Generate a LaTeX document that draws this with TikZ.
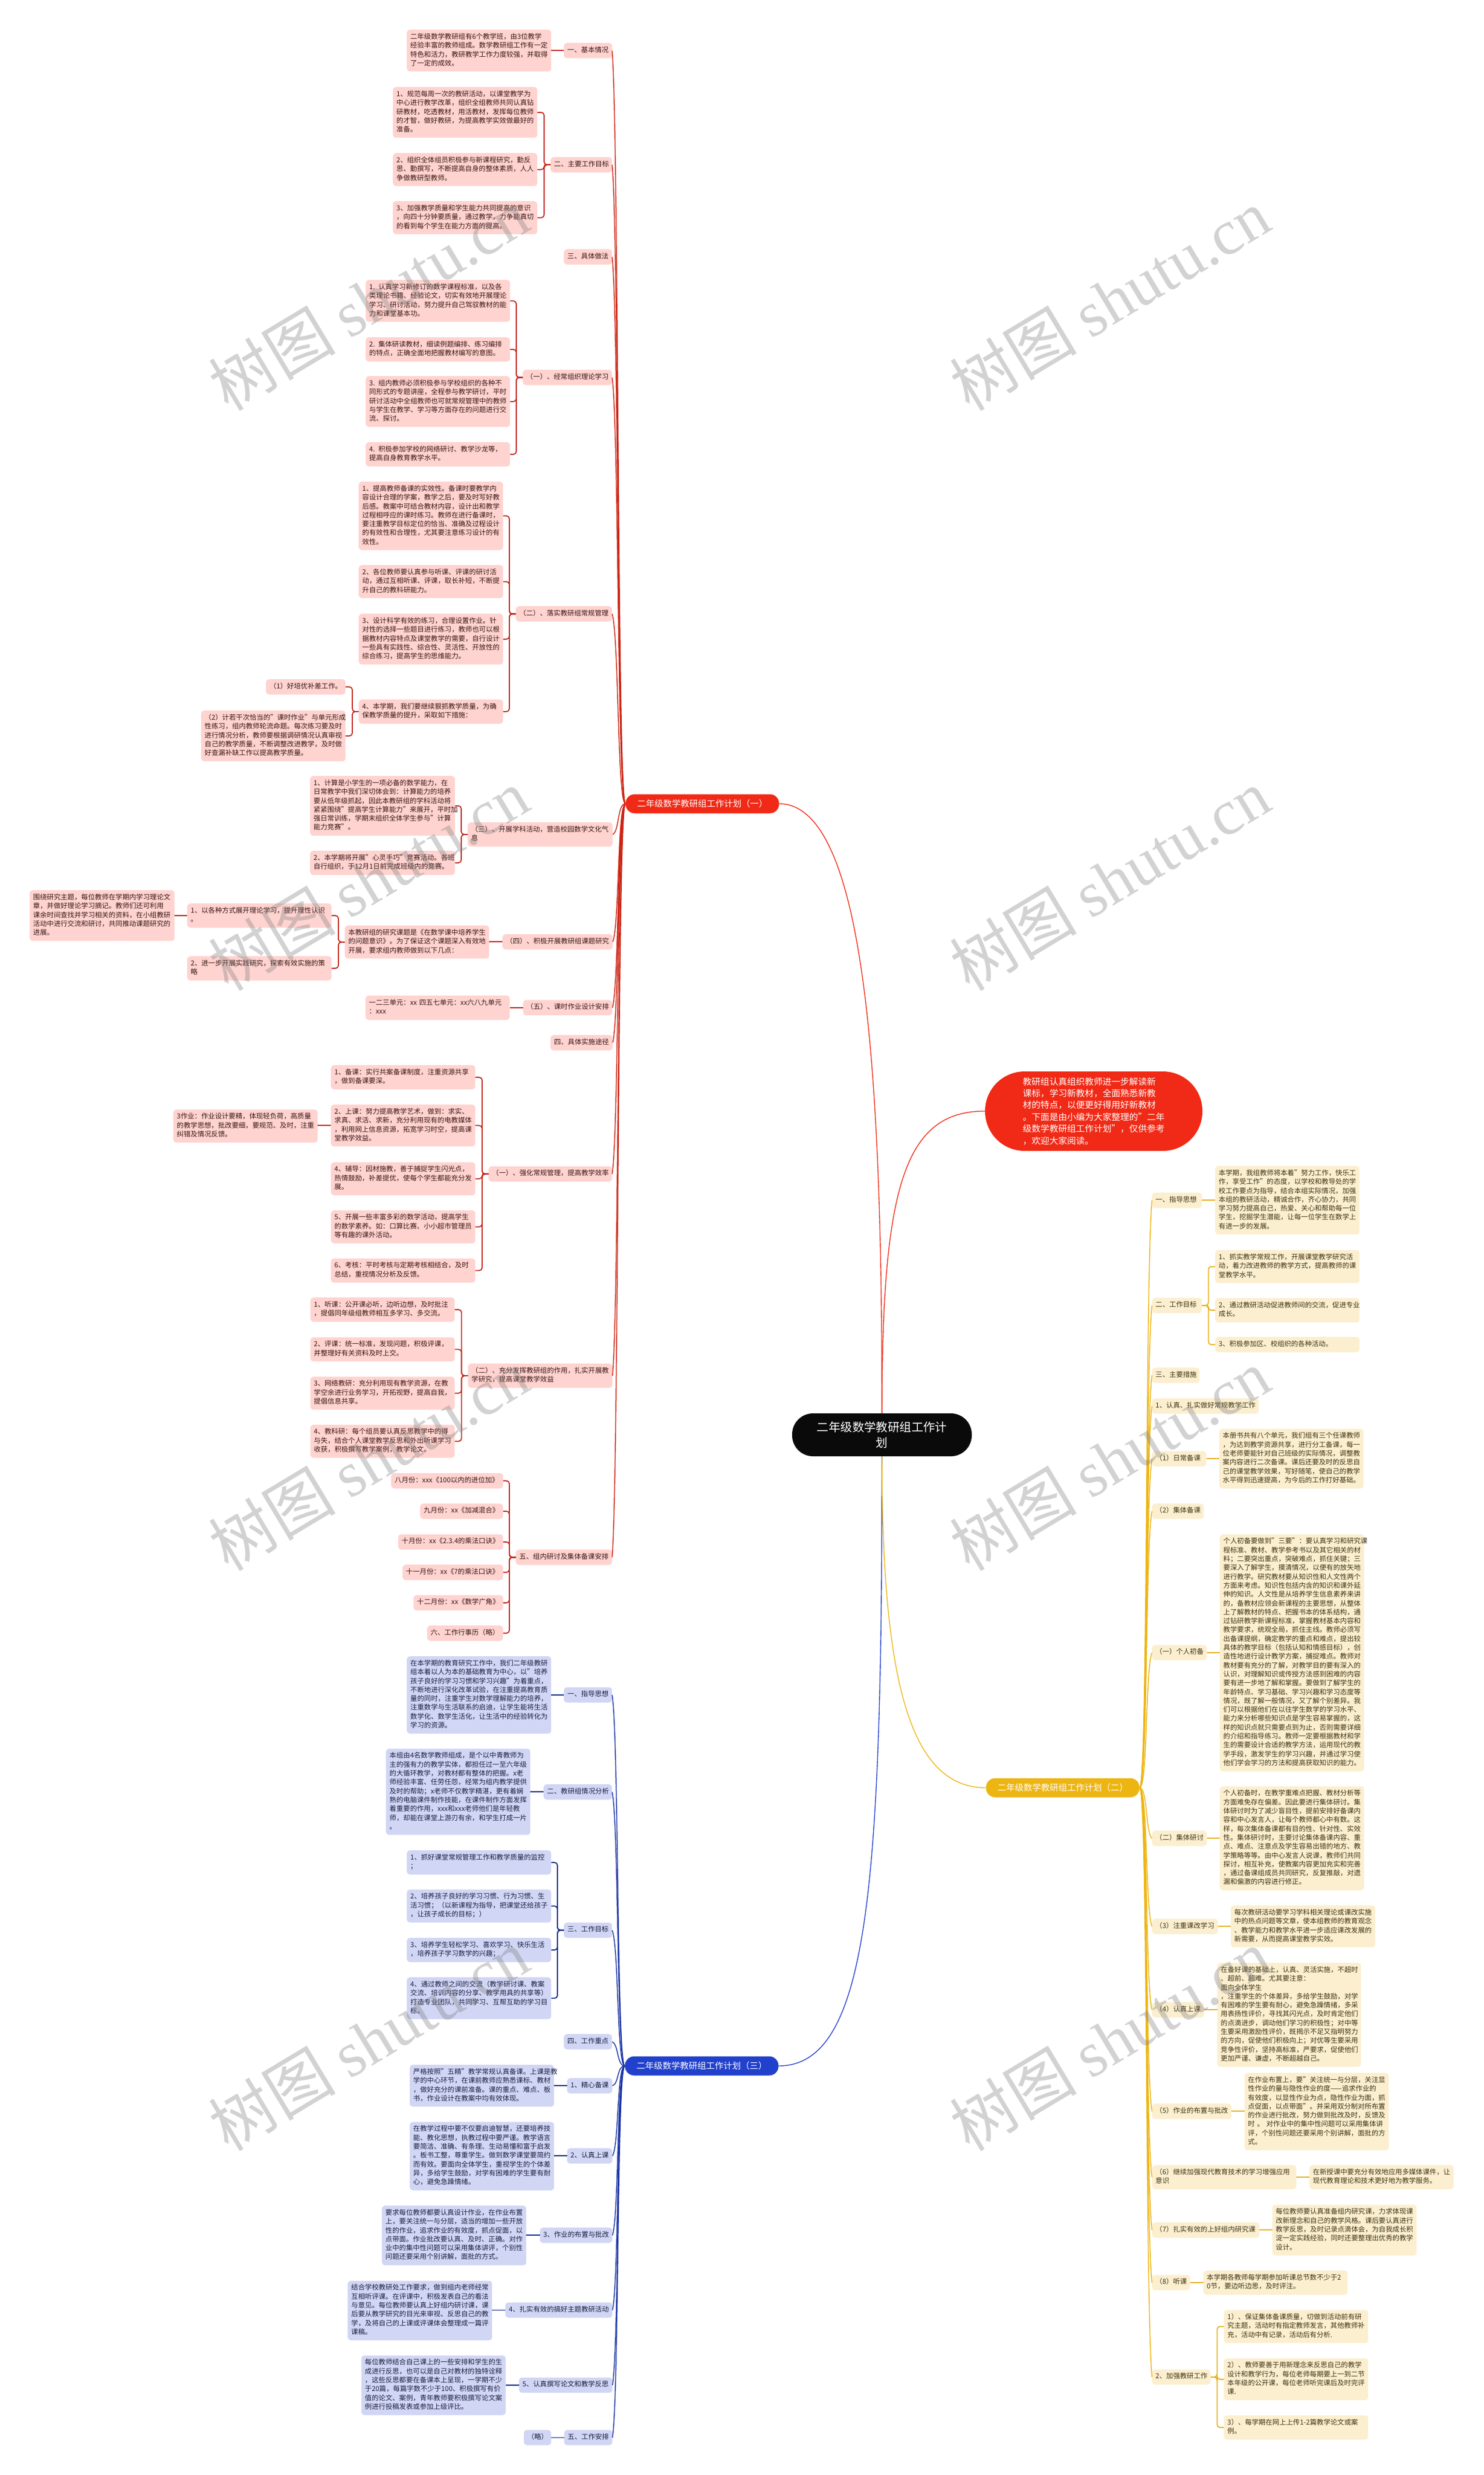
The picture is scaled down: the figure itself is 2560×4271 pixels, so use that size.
\documentclass[tikz,border=0pt]{standalone}
\usepackage{fontspec}
\setmainfont{Noto Sans CJK SC}
\newfontfamily\markfont{Liberation Serif}
\usetikzlibrary{calc}
\definecolor{redfill}{HTML}{FFD3CF}
\definecolor{redtext}{HTML}{3B1512}
\definecolor{redlink}{HTML}{C2261A}
\definecolor{redmain}{HTML}{F02A16}
\definecolor{bluefill}{HTML}{D1D6F5}
\definecolor{bluetext}{HTML}{1A1D40}
\definecolor{bluelink}{HTML}{0E2A8C}
\definecolor{bluemain}{HTML}{2140CC}
\definecolor{yelfill}{HTML}{FBEFD0}
\definecolor{yeltext}{HTML}{3F3110}
\definecolor{yellink}{HTML}{E8B01E}
\definecolor{yelmain}{HTML}{EDB512}
\tikzset{
  leaf/.style={anchor=north west, rounded corners=5pt, inner xsep=6pt, inner ysep=5.5pt, align=left,
    font=\fontsize{11.85}{15.3}\selectfont, execute at begin node=\strut, execute at end node=\strut},
  tw/.style={text width=#1pt-12pt},
  redbox/.style={leaf, fill=redfill, text=redtext},
  bluebox/.style={leaf, fill=bluefill, text=bluetext},
  yelbox/.style={leaf, fill=yelfill, text=yeltext},
  pill/.style={rounded corners=16pt, minimum width=265pt, minimum height=33pt, text=white,
    font=\fontsize{15}{18}\selectfont},
  redline/.style={draw=redlink, line width=1.8pt},
  blueline/.style={draw=bluelink, line width=1.8pt},
  yelline/.style={draw=yellink, line width=1.8pt}
}
\begin{document}
\begin{tikzpicture}[x=1pt, y=-1pt]
  \useasboundingbox[fill=white] (0,0) rectangle (2560,4271);

  \node[fill=black!96, rounded corners=36pt, minimum width=310pt, minimum height=74pt, text=white, align=center,
    font=\fontsize{20.4}{27}\selectfont] (root) at (1522,2476) {二年级数学教研组工作计\\划};
  \node[fill=redmain, rounded corners=68pt, minimum width=375pt, minimum height=137pt, text=white, align=left,
    font=\fontsize{15.3}{20.4}\selectfont] (intro) at (1887.5,1917.5) {教研组认真组织教师进一步解读新\\课标，学习新教材，全面熟悉新教\\材的特点，以便更好得用好新教材\\。下面是由小编为大家整理的"二年\\级数学教研组工作计划"，仅供参考\\，欢迎大家阅读。};
  \node[pill, fill=redmain] (red) at (1212,1387) {二年级数学教研组工作计划（一）};
  \node[pill, fill=bluemain] (blue) at (1211,3565) {二年级数学教研组工作计划（三）};
  \node[pill, fill=yelmain] (yel) at (1834,3085) {二年级数学教研组工作计划（二）};

  {\tikzstyle{every node}=[redbox]
    \node[tw=83] (r1) at (973,74) {一、基本情况};
    \node[tw=249] (r1a) at (702,51) {二年级数学教研组有6个教学班，由3位教学\\经验丰富的教师组成。数学教研组工作有一定\\特色和活力，教研教学工作力度较强，并取得\\了一定的成效。};
    \node[tw=106] (r2) at (950,271) {二、主要工作目标};
    \node[tw=249] (r2a) at (678,150) {1、规范每周一次的教研活动，以课堂教学为\\中心进行教学改革，组织全组教师共同认真钻\\研教材，吃透教材，用活教材，发挥每位教师\\的才智，做好教研，为提高教学实效做最好的\\准备。};
    \node[tw=249] (r2b) at (678,264) {2、组织全体组员积极参与新课程研究，勤反\\思、勤撰写，不断提高自身的整体素质，人人\\争做教研型教师。};
    \node[tw=249] (r2c) at (678,347) {3、加强教学质量和学生能力共同提高的意识\\，向四十分钟要质量，通过教学，力争能真切\\的看到每个学生在能力方面的提高。};
    \node[tw=83] (r3) at (973,430) {三、具体做法};
    \node[tw=154] (r4) at (902,638) {（一）、经常组织理论学习};
    \node[tw=249] (r4a) at (631,483) {1. 认真学习新修订的数学课程标准，以及各\\类理论书籍、经验论文，切实有效地开展理论\\学习、研讨活动，努力提升自己驾驭教材的能\\力和课堂基本功。};
    \node[tw=249] (r4b) at (631,582) {2. 集体研读教材，细读例题编排、练习编排\\的特点，正确全面地把握教材编写的意图。};
    \node[tw=249] (r4c) at (631,649) {3. 组内教师必须积极参与学校组织的各种不\\同形式的专题讲座，全程参与教学研讨，平时\\研讨活动中全组教师也可就常规管理中的教师\\与学生在教学、学习等方面存在的问题进行交\\流、探讨。};
    \node[tw=249] (r4d) at (631,763) {4. 积极参加学校的网络研讨、教学沙龙等，\\提高自身教育教学水平。};
    \node[tw=166] (r5) at (890,1046) {（二）、落实教研组常规管理};
    \node[tw=249] (r5a) at (619,831) {1、提高教师备课的实效性。备课时要教学内\\容设计合理的学案，教学之后，要及时写好教\\后感。教案中可结合教材内容，设计出和教学\\过程相呼应的课时练习。教师在进行备课时，\\要注重教学目标定位的恰当、准确及过程设计\\的有效性和合理性，尤其要注意练习设计的有\\效性。};
    \node[tw=249] (r5b) at (619,975) {2、各位教师要认真参与听课、评课的研讨活\\动，通过互相听课、评课，取长补短，不断提\\升自己的教科研能力。};
    \node[tw=249] (r5c) at (619,1059) {3、设计科学有效的练习，合理设置作业。针\\对性的选择一些题目进行练习，教师也可以根\\据教材内容特点及课堂教学的需要，自行设计\\一些具有实践性、综合性、灵活性、开放性的\\综合练习，提高学生的思维能力。};
    \node[tw=249] (r5d) at (619,1207) {4、本学期，我们要继续狠抓教学质量，为确\\保教学质量的提升，采取如下措施：};
    \node[tw=137] (r5d1) at (459,1172) {（1）好培优补差工作。};
    \node[tw=249] (r5d2) at (347,1226) {（2）计若干次恰当的"课时作业"与单元形成\\性练习，组内教师轮流命题。每次练习要及时\\进行情况分析，教师要根据调研情况认真审视\\自己的教学质量，不断调整改进教学，及时做\\好查漏补缺工作以提高教学质量。};
    \node[tw=250] (r6) at (807,1419) {（三）、开展学科活动，营造校园数学文化气\\息};
    \node[tw=250] (r6a) at (535,1339) {1、计算是小学生的一项必备的数学能力，在\\日常教学中我们深切体会到：计算能力的培养\\要从低年级抓起，因此本教研组的学科活动将\\紧紧围绕"提高学生计算能力"来展开，平时加\\强日常训练，学期末组织全体学生参与"计算\\能力竞赛"。};
    \node[tw=250] (r6b) at (535,1468) {2、本学期将开展"心灵手巧"竞赛活动。各班\\自行组织，于12月1日前完成班级内的竞赛。};
    \node[tw=190] (r7) at (867,1612) {（四）、积极开展教研组课题研究};
    \node[tw=249] (r7a) at (595,1597) {本教研组的研究课题是《在数学课中培养学生\\的问题意识》。为了保证这个课题深入有效地\\开展，要求组内教师做到以下几点：};
    \node[tw=249] (r7b) at (323,1559) {1、以各种方式展开理论学习，提升理性认识\\。};
    \node[tw=249] (r7c) at (323,1650) {2、进一步开展实践研究，探索有效实施的策\\略};
    \node[tw=250] (r7b1) at (51,1536) {围绕研究主题，每位教师在学期内学习理论文\\章，并做好理论学习摘记。教师们还可利用\\课余时间查找并学习相关的资料，在小组教研\\活动中进行交流和研讨，共同推动课题研究的\\进展。};
    \node[tw=154] (r8) at (902.5,1725.5) {（五）、课时作业设计安排};
    \node[tw=249] (r8a) at (630.5,1718) {一二三单元：xx 四五七单元：xx六八九单元\\：xxx};
    \node[tw=107] (r9) at (950,1786) {四、具体实施途径};
    \node[tw=213] (r10) at (843,2012.5) {（一）、强化常规管理，提高教学效率};
    \node[tw=249] (r10a) at (571,1838) {1、备课：实行共案备课制度，注重资源共享\\，做到备课要深。};
    \node[tw=249] (r10b) at (571,1906) {2、上课：努力提高教学艺术，做到：求实、\\求真、求活、求新，充分利用现有的电教媒体\\，利用网上信息资源，拓宽学习时空，提高课\\堂教学效益。};
    \node[tw=249] (r10b1) at (299,1914.5) {3作业：作业设计要精，体现轻负荷，高质量\\的教学思想，批改要细，要规范、及时，注重\\纠错及情况反馈。};
    \node[tw=249] (r10c) at (571,2005.5) {4、辅导：因材施教，善于捕捉学生闪光点，\\热情鼓励，补差提优，使每个学生都能充分发\\展。};
    \node[tw=249] (r10d) at (571,2088.5) {5、开展一些丰富多彩的数学活动，提高学生\\的数学素养。如：口算比赛、小小超市管理员\\等有趣的课外活动。};
    \node[tw=249] (r10e) at (571,2171.5) {6、考核：平时考核与定期考核相结合，及时\\总结，重视情况分析及反馈。};
    \node[tw=249] (r11) at (807.5,2353) {（二）、充分发挥教研组的作用，扎实开展教\\学研究，提高课堂教学效益};
    \node[tw=249] (r11a) at (535.5,2239) {1、听课：公开课必听，边听边想，及时批注\\，提倡同年级组教师相互多学习、多交流。};
    \node[tw=249] (r11b) at (535.5,2307.5) {2、评课：统一标准，发现问题，积极评课，\\并整理好有关资料及时上交。};
    \node[tw=249] (r11c) at (535.5,2375.5) {3、网络教研：充分利用现有教学资源，在教\\学空余进行业务学习，开拓视野，提高自我，\\提倡信息共享。};
    \node[tw=249] (r11d) at (535.5,2458.5) {4、教科研：每个组员要认真反思教学中的得\\与失，结合个人课堂教学反思和外出听课学习\\收获，积极撰写教学案例，教学论文。};
    \node[tw=166] (r12) at (890,2674) {五、组内研讨及集体备课安排};
    \node[tw=193] (r12a) at (675,2542) {八月份：xxx《100以内的进位加》};
    \node[tw=143] (r12b) at (725,2594.5) {九月份：xx《加减混合》};
    \node[tw=181] (r12c) at (687,2647.5) {十月份：xx《2.3.4的乘法口诀》};
    \node[tw=173.5] (r12d) at (694.5,2700) {十一月份：xx《7的乘法口诀》};
    \node[tw=154.5] (r12e) at (713.5,2752.5) {十二月份：xx《数学广角》};
    \node[tw=131] (r12f) at (737,2805) {六、工作行事历（略）};
  }

  {\tikzstyle{every node}=[bluebox]
    \node[tw=83] (b1) at (973,2911.5) {一、指导思想};
    \node[tw=249] (b1a) at (702,2858) {在本学期的教育研究工作中，我们二年级教研\\组本着以人为本的基础教育为中心，以"培养\\孩子良好的学习习惯和学习兴趣"为着重点，\\不断地进行深化改革试验，在注重提高教育质\\量的同时，注重学生对数学理解能力的培养，\\注重数学与生活联系的启迪，让学生能将生活\\数学化、数学生活化，让生活中的经验转化为\\学习的资源。};
    \node[tw=118] (b2) at (938,3079) {二、教研组情况分析};
    \node[tw=249] (b2a) at (666,3017.5) {本组由4名数学教师组成，是个以中青教师为\\主的强有力的教学实体，都担任过一至六年级\\的大循环教学，对教材都有整体的把握。x老\\师经验丰富、任劳任怨，经常为组内教学提供\\及时的帮助；x老师不仅教学精湛，更有着娴\\熟的电脑课件制作技能，在课件制作方面发挥\\着重要的作用，xxx和xxx老师他们是年轻教\\师，却能在课堂上游刃有余，和学生打成一片\\。};
    \node[tw=83] (b3) at (973,3317.5) {三、工作目标};
    \node[tw=249] (b3a) at (702,3193) {1、抓好课堂常规管理工作和教学质量的监控\\；};
    \node[tw=249] (b3b) at (702,3260.5) {2、培养孩子良好的学习习惯、行为习惯、生\\活习惯；（以新课程为指导，把课堂还给孩子\\，让孩子成长的目标；）};
    \node[tw=249] (b3c) at (702,3344) {3、培养学生轻松学习、喜欢学习、快乐生活\\，培养孩子学习数学的兴趣；};
    \node[tw=249] (b3d) at (702,3412) {4、通过教师之间的交流（教学研讨课、教案\\交流、培训内容的分享、教学用具的共享等）\\打造专业团队，共同学习、互帮互助的学习目\\标。};
    \node[tw=83] (b4) at (973,3510) {四、工作重点};
    \node[tw=78] (b5) at (978.5,3586) {1、精心备课};
    \node[tw=249] (b5a) at (707,3563) {严格按照"五精"教学常规认真备课。上课是教\\学的中心环节，在课前教师应熟悉课标、教材\\，做好充分的课前准备。课的重点、难点、板\\书，作业设计在教案中均有效体现。};
    \node[tw=78] (b6) at (978.5,3707) {2、认真上课};
    \node[tw=249] (b6a) at (707,3661.5) {在教学过程中要不仅要启迪智慧，还要培养技\\能、教化思想，执教过程中要严谨。教学语言\\要简洁、准确、有条理、生动易懂和富于启发\\。板书工整，尊重学生。做到数学课堂要简约\\而有效。要面向全体学生，重视学生的个体差\\异，多给学生鼓励，对学有困难的学生要有耐\\心，避免急躁情绪。};
    \node[tw=125] (b7) at (931.5,3844) {3、作业的布置与批改};
    \node[tw=249] (b7a) at (659,3806) {要求每位教师都要认真设计作业，在作业布置\\上，要关注统一与分层，适当的增加一些开放\\性的作业，追求作业的有效度，抓点促面，以\\点带面。作业批改要认真、及时、正确。对作\\业中的集中性问题可以采用集体讲评，个别性\\问题还要采用个别讲解，面批的方式。};
    \node[tw=184.5] (b8) at (872,3973) {4、扎实有效的搞好主题教研活动};
    \node[tw=249] (b8a) at (600,3935.5) {结合学校教研处工作要求，做到组内老师经常\\互相听评课。在评课中，积极发表自己的看法\\与意见。每位教师要认真上好组内研讨课，课\\后要从教学研究的目光来审视、反思自己的教\\学，及将自己的上课或评课体会整理成一篇评\\课稿。};
    \node[tw=161] (b9) at (895.5,4102.5) {5、认真撰写论文和教学反思};
    \node[tw=249] (b9a) at (623.5,4064.5) {每位教师结合自己课上的一些安排和学生的生\\成进行反思，也可以是自己对教材的独特诠释\\，这些反思都要在备课本上呈现，一学期不少\\于20篇，每篇字数不少于100、积极撰写有价\\值的论文、案例，青年教师要积极撰写论文案\\例进行投稿发表或参加上级评比。};
    \node[tw=83] (b10) at (973.5,4193) {五、工作安排};
    \node[tw=47] (b10a) at (904,4193) {（略）};
  }

  {\tikzstyle{every node}=[yelbox]
    \node[tw=86] (y1) at (1988,2058) {一、指导思想};
    \node[tw=249] (y1a) at (2097,2012) {本学期，我组教师将本着"努力工作，快乐工\\作，享受工作"的态度，以学校和教导处的学\\校工作要点为指导，结合本组实际情况，加强\\本组的教研活动，精诚合作，齐心协力，共同\\学习努力提高自己，热爱、关心和帮助每一位\\学生，挖掘学生潜能，让每一位学生在数学上\\有进一步的发展。};
    \node[tw=86] (y2) at (1988,2239.5) {二、工作目标};
    \node[tw=249] (y2a) at (2097,2157) {1、抓实教学常规工作，开展课堂教学研究活\\动，着力改进教师的教学方式，提高教师的课\\堂教学水平。};
    \node[tw=249] (y2b) at (2097,2240) {2、通过教研活动促进教师间的交流，促进专业\\成长。};
    \node[tw=249] (y2c) at (2097,2307) {3、积极参加区、校组织的各种活动。};
    \node[tw=82] (y3) at (1988,2360) {三、主要措施};
    \node[tw=184] (y4) at (1988,2413) {1、认真、扎实做好常规教学工作};
    \node[tw=93.5] (y5) at (1988,2504) {（1）日常备课};
    \node[tw=249] (y5a) at (2104,2465.5) {本册书共有八个单元，我们组有三个任课教师\\，为达到教学资源共享，进行分工备课，每一\\位老师要能针对自己班级的实际情况，调整教\\案内容进行二次备课。课后还要及时的反思自\\己的课堂教学效果，写好随笔，使自己的教学\\水平得到迅速提高，为今后的工作打好基础。};
    \node[tw=89] (y6) at (1988,2594.5) {（2）集体备课};
    \node[tw=94.5] (y7) at (1988,2838.5) {（一）个人初备};
    \node[tw=249] (y7a) at (2105,2647.5) {个人初备要做到"三要"：要认真学习和研究课\\程标准、教材、教学参考书以及其它相关的材\\料；二要突出重点，突破难点，抓住关键；三\\要深入了解学生，摸清情况，以便有的放矢地\\进行教学。研究教材要从知识性和人文性两个\\方面来考虑。知识性包括内含的知识和课外延\\伸的知识。人文性是从培养学生信息素养来讲\\的，备教材应领会新课程的主要思想，从整体\\上了解教材的特点、把握书本的体系结构，通\\过钻研教学新课程标准，掌握教材基本内容和\\教学要求，统观全局，抓住主线。教师必须写\\出备课提纲，确定教学的重点和难点，提出较\\具体的教学目标（包括认知和情感目标），创\\造性地进行设计教学方案，捕捉难点。教师对\\教材要有充分的了解，对教学目的要有深入的\\认识，对理解知识或传授方法感到困难的内容\\要有进一步地了解和掌握。要做到了解学生的\\年龄特点、学习基础、学习兴趣和学习态度等\\情况，既了解一般情况，又了解个别差异。我\\们可以根据他们在以往学生数学的学习水平、\\能力来分析哪些知识点是学生容易掌握的，这\\样的知识点就只需要点到为止，否则需要详细\\的介绍和指导练习。教师一定要根据教材和学\\生的需要设计合适的教学方法，运用现代的教\\学手段，激发学生的学习兴趣，并通过学习使\\他们学会学习的方法和提高获取知识的能力。};
    \node[tw=94.5] (y8) at (1988,3159) {（二）集体研讨};
    \node[tw=249] (y8a) at (2105,3082.5) {个人初备时，在教学重难点把握、教材分析等\\方面难免存在偏差。因此要进行集体研讨。集\\体研讨时为了减少盲目性，提前安排好备课内\\容和中心发言人，让每个教师都心中有数。这\\样，每次集体备课都有目的性、针对性、实效\\性。集体研讨时，主要讨论集体备课内容、重\\点、难点、注意点及学生容易出错的地方、教\\学策略等等。由中心发言人说课，教师们共同\\探讨，相互补充，使教案内容更加充实和完善\\，通过备课组成员共同研究，反复推敲，对遗\\漏和偏激的内容进行修正。};
    \node[tw=113.5] (y9) at (1988,3311) {（3）注重课改学习};
    \node[tw=249] (y9a) at (2124,3288) {每次教研活动要学习学科相关理论或课改实施\\中的热点问题等文章，使本组教师的教育观念\\、教学能力和教学水平进一步适应课改发展的\\新需要，从而提高课堂教学实效。};
    \node[tw=89.5] (y10) at (1988,3455) {（4）认真上课};
    \node[tw=248] (y10a) at (2100.5,3387) {在备好课的基础上，认真、灵活实施，不超时\\、超前、超难。尤其要注意：\hspace{1em}面向全体学生\\，注重学生的个体差异，多给学生鼓励，对学\\有困难的学生要有耐心，避免急躁情绪，多采\\用表扬性评价，寻找其闪光点，及时肯定他们\\的点滴进步，调动他们学习的积极性；对中等\\生要采用激励性评价，既揭示不足又指明努力\\的方向，促使他们积极向上；对优等生要采用\\竞争性评价，坚持高标准，严要求，促使他们\\更加严谨、谦虚，不断超越自己。};
    \node[tw=137] (y11) at (1988,3630) {（5）作业的布置与批改};
    \node[tw=249] (y11a) at (2147.5,3577) {在作业布置上，要"关注统一与分层，关注显\\性作业的量与隐性作业的度——追求作业的\\有效度，以显性作业为点，隐性作业为面，抓\\点促面，以点带面"。并采用双分制对所布置\\的作业进行批改，努力做到批改及时，反馈及\\时 。 对作业中的集中性问题可以采用集体讲\\评，个别性问题还要采用个别讲解，面批的方\\式。};
    \node[tw=249] (y12) at (1988,3736) {（6）继续加强现代教育技术的学习增强应用\\意识};
    \node[tw=249] (y12a) at (2259.5,3736) {在新授课中要充分有效地应用多媒体课件，让\\现代教育理论和技术更好地为教学服务。};
    \node[tw=185] (y13) at (1988,3835) {（7）扎实有效的上好组内研究课};
    \node[tw=249] (y13a) at (2195.5,3804.5) {每位教师要认真准备组内研究课，力求体现课\\改新理念和自己的教学风格。课后要认真进行\\教学反思，及时记录点滴体会，为自我成长积\\淀一定实践经验，同时还要整理出优秀的教学\\设计。};
    \node[tw=65.5] (y14) at (1988,3925.5) {（8）听课};
    \node[tw=249] (y14a) at (2076.5,3918) {本学期各教师每学期参加听课总节数不少于2\\0节，要边听边思，及时评注。};
    \node[tw=101] (y15) at (1988,4088.5) {2、加强教研工作};
    \node[tw=249] (y15a) at (2112,3986) {1）、保证集体备课质量，切做到活动前有研\\究主题，活动时有指定教师发言，其他教师补\\充，活动中有记录，活动后有分析.};
    \node[tw=249] (y15b) at (2112,4069.5) {2）、教师要善于用新理念来反思自己的教学\\设计和教学行为，每位老师每期要上一到二节\\本年级的公开课，每位老师听完课后及时完评\\课.};
    \node[tw=249] (y15c) at (2112,4168) {3）、每学期在网上上传1-2篇教学论文或案\\例。};
  }

  \draw [redmain, line width=1.4pt] (root.north) .. controls (1522,1900) and (1500,1387) .. (red.east);
  \draw [redmain, line width=1.4pt] (root.north) .. controls (1522,2050) and (1560,1917) .. (intro.west);
  \draw [bluemain, line width=1.4pt] (root.south) .. controls (1522,3250) and (1500,3565) .. (blue.east);
  \draw [yelmain, line width=1.4pt] (root.south) .. controls (1522,2900) and (1570,3085) .. (yel.west);

  \foreach \c in {r1,r2,r3,r4,r5,r6,r7,r8,r9,r10,r11,r12}
    \draw [redmain!85!black, line width=1.5pt] (red.west) .. controls +(-14,0) and ($(\c.east)!.12!(red.west)+(9,0)$) .. (\c.east);
  \foreach \c in {b1,b2,b3,b4,b5,b6,b7,b8,b9,b10}
    \draw [bluemain!80!black, line width=1.5pt] (blue.west) .. controls +(-14,0) and ($(\c.east)!.12!(blue.west)+(9,0)$) .. (\c.east);
  \foreach \c in {y1,y2,y3,y4,y5,y6,y7,y8,y9,y10,y11,y12,y13,y14,y15}
    \draw [yelmain, line width=1.5pt] (yel.east) .. controls +(14,0) and ($(\c.west)!.12!(yel.east)+(-9,0)$) .. (\c.west);

  \foreach \p/\c in {r1/r1a,r7/r7a,r8/r8a,r7b/r7b1,r10b/r10b1}
    \draw [redline] (\p.west) -- (\c.east |- \p.west);
  \foreach \p/\c in {b1/b1a,b2/b2a,b5/b5a,b6/b6a,b7/b7a,b8/b8a,b9/b9a,b10/b10a}
    \draw [blueline] (\p.west) -- (\c.east |- \p.west);
  \foreach \p/\c in {y1/y1a,y5/y5a,y7/y7a,y8/y8a,y9/y9a,y10/y10a,y11/y11a,y12/y12a,y13/y13a,y14/y14a}
    \draw [yelline] (\p.east) -- (\c.west |- \p.east);

  \foreach \p/\c in {r2/r2a,r2/r2b,r2/r2c,r4/r4a,r4/r4b,r4/r4c,r4/r4d,r5/r5a,r5/r5b,r5/r5c,r5/r5d,
      r5d/r5d1,r5d/r5d2,r6/r6a,r6/r6b,r7a/r7b,r7a/r7c,r10/r10a,r10/r10b,r10/r10c,r10/r10d,r10/r10e,
      r11/r11a,r11/r11b,r11/r11c,r11/r11d,r12/r12a,r12/r12b,r12/r12c,r12/r12d,r12/r12e,r12/r12f}
    \draw [redline, rounded corners=5pt] (\p.west) -- ++(-11,0) |- (\c.east);
  \foreach \c in {b3a,b3b,b3c,b3d}
    \draw [blueline, rounded corners=5pt] (b3.west) -- ++(-11,0) |- (\c.east);
  \foreach \p/\c in {y2/y2a,y2/y2b,y2/y2c,y15/y15a,y15/y15b,y15/y15c}
    \draw [yelline, rounded corners=5pt] (\p.east) -- ++(11,0) |- (\c.west);

  \foreach \i in {0, 1}
    \foreach \j in {0, 1, 2, 3}
    {
      \node [rotate=31, text=black!50, opacity=.35, font=\fontsize{110}{120}\selectfont] (w\i\j) at (636+\i*1279, 517+\j*1001) {树图 {\markfont shutu.cn}};
    }
\end{tikzpicture}
\end{document}
